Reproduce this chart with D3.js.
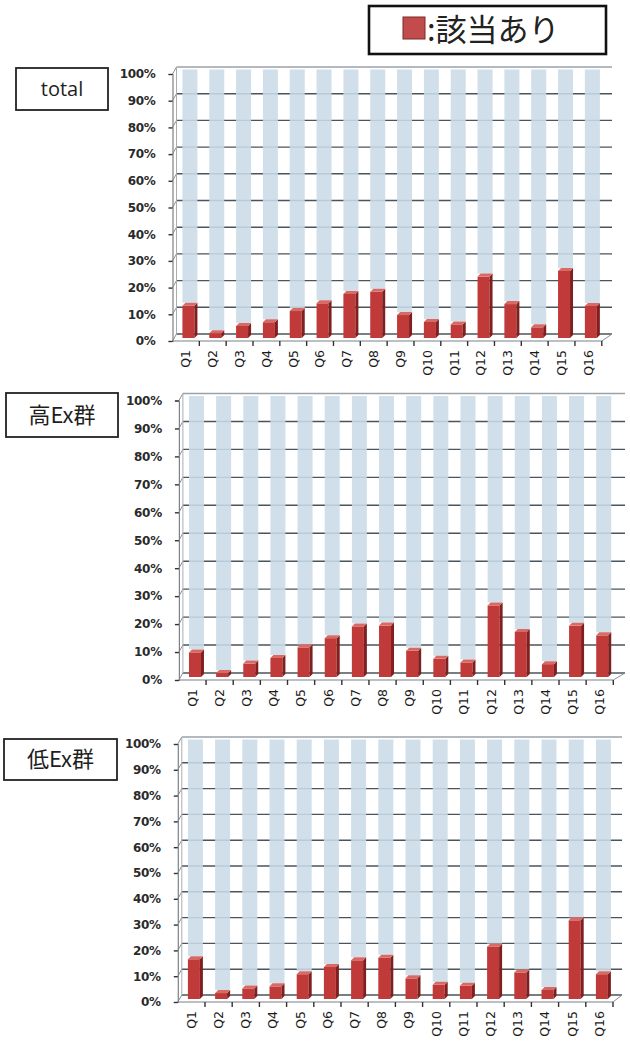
<!DOCTYPE html>
<html>
<head>
<meta charset="utf-8">
<script src="https://cdn.jsdelivr.net/npm/d3@7"></script>
<style>
  html, body { margin: 0; padding: 0; background: #fff; }
  svg { display: block; }
</style>
</head>
<body>
<svg id="chart" width="630" height="1041"></svg>
<script>
// Question labels along the horizontal axis
const categories = ['Q1','Q2','Q3','Q4','Q5','Q6','Q7','Q8','Q9','Q10','Q11','Q12','Q13','Q14','Q15','Q16'];

// Share answering "該当あり" (percent) for each group
const totalValues  = [12.1, 1.8, 4.5, 5.9, 10.1, 13.0, 16.5, 17.3, 8.6, 6.0, 5.1, 23.0, 12.7, 4.0, 25.1, 12.0];
const highExValues = [8.8, 1.4, 4.8, 6.8, 10.6, 13.9, 18.1, 18.4, 9.4, 6.5, 5.2, 25.6, 16.1, 4.6, 18.3, 14.9];
const lowExValues  = [15.4, 2.3, 4.1, 4.9, 9.6, 12.4, 15.0, 16.0, 8.0, 5.5, 5.1, 20.3, 10.3, 3.5, 30.5, 9.6];

// Percent axis ticks
const yTicks = [0, 10, 20, 30, 40, 50, 60, 70, 80, 90, 100];

const groupNames = ['total', '高Ex群', '低Ex群'];
const legendLabel = ':該当あり';

// Panel layout (pixel geometry of each small chart)
const layout = [
  { axisX: 172.5, y0: 341,  h: 267,   step: 26.83, right: 612, box: [16, 68, 92, 42] },
  { axisX: 178.9, y0: 680,  h: 279.5, step: 27.15, right: 625, box: [6, 393, 112, 44] },
  { axisX: 177.8, y0: 1002, h: 258,   step: 27.2,  right: 622, box: [4, 739, 113, 41] }
];
const series = [totalValues, highExValues, lowExValues];

const svg = d3.select('#chart');

const RED = '#c13a3a', RED_SIDE = '#7f1f1f', RED_TOP = '#d86a66';
const BLUE = '#c9dbe7';
const GRID = '#4a545c';

// Pseudo-3D depth offsets
const wallDx = 4, wallDy = -7;   // back wall relative to front axis
const barDx = 4, barDy = -3;     // bar plane relative to front axis
const depth = 3;                  // bar side / top depth
const barW = 12;

series.forEach((values, p) => {
  const L = layout[p];
  const g = svg.append('g');

  const y = d3.scaleLinear().domain([0, 100]).range([L.y0, L.y0 - L.h]);
  const x = d3.scaleBand().domain(categories).range([L.axisX, L.axisX + L.step * categories.length]);
  const xEdge = d3.scaleLinear().domain([0, categories.length]).range([L.axisX, L.axisX + L.step * categories.length]);
  const xEnd = xEdge(categories.length);

  // Back wall gridlines
  g.append('g').selectAll('line.grid').data(yTicks).join('line')
    .attr('x1', L.axisX + wallDx).attr('x2', L.right)
    .attr('y1', d => y(d) + wallDy).attr('y2', d => y(d) + wallDy)
    .attr('stroke', d => d === 100 ? '#9aa2a8' : GRID)
    .attr('stroke-width', 1.4);

  // Side wall connectors from the front axis to the wall
  g.append('g').selectAll('line.conn').data(yTicks).join('line')
    .attr('x1', L.axisX).attr('x2', L.axisX + wallDx)
    .attr('y1', d => y(d)).attr('y2', d => y(d) + wallDy)
    .attr('stroke', '#8a8f94').attr('stroke-width', 1);
  g.append('line')
    .attr('x1', L.axisX + wallDx).attr('x2', L.axisX + wallDx)
    .attr('y1', y(0) + wallDy).attr('y2', y(100) + wallDy)
    .attr('stroke', '#a8adb2').attr('stroke-width', 1);

  // Floor: right-hand depth edge
  g.append('line')
    .attr('x1', xEnd).attr('y1', y(0))
    .attr('x2', L.right).attr('y2', y(0) + wallDy)
    .attr('stroke', '#8a8f94').attr('stroke-width', 1);

  // Bars: remaining share (blue) stacked above the "該当あり" share (red)
  const bars = g.append('g').selectAll('g.bar')
    .data(categories.map((c, i) => ({ c, v: values[i] })))
    .join('g');

  const bx = d => x(d.c) + x.bandwidth() / 2 + barDx - (barW + depth) / 2;
  const by = v => y(v) + barDy;

  bars.append('rect')
    .attr('x', d => bx(d))
    .attr('y', by(100) - depth / 2)
    .attr('width', barW + depth)
    .attr('height', d => by(d.v) - depth - (by(100) - depth / 2))
    .attr('fill', BLUE).attr('opacity', 0.88);

  // front face
  bars.append('rect')
    .attr('x', d => bx(d))
    .attr('y', d => by(d.v))
    .attr('width', barW)
    .attr('height', d => by(0) - by(d.v))
    .attr('fill', RED);
  // right side
  bars.append('polygon')
    .attr('points', d => {
      const x0 = bx(d) + barW, t = by(d.v), b = by(0);
      return [[x0, t], [x0 + depth, t - depth], [x0 + depth, b - depth], [x0, b]].join(' ');
    })
    .attr('fill', RED_SIDE);
  // top face
  bars.append('polygon')
    .attr('points', d => {
      const x0 = bx(d), t = by(d.v);
      return [[x0, t], [x0 + depth, t - depth], [x0 + barW + depth, t - depth], [x0 + barW, t]].join(' ');
    })
    .attr('fill', RED_TOP);

  // Front floor edge with boundary ticks
  g.append('line')
    .attr('x1', L.axisX).attr('x2', xEnd)
    .attr('y1', y(0)).attr('y2', y(0))
    .attr('stroke', '#7d8287').attr('stroke-width', 1.2);
  g.append('g').selectAll('line.xt').data(d3.range(1, categories.length + 1)).join('line')
    .attr('x1', d => xEdge(d)).attr('x2', d => xEdge(d))
    .attr('y1', y(0)).attr('y2', y(0) + 5)
    .attr('stroke', '#333').attr('stroke-width', 1.4);

  // Category labels, rotated to read upward
  const xAxis = d3.axisBottom(x).tickSize(0).tickPadding(0);
  const xa = g.append('g').attr('transform', `translate(0,${y(0)})`).call(xAxis);
  xa.select('.domain').remove();
  xa.selectAll('text')
    .attr('transform', 'rotate(-90)')
    .attr('x', -9).attr('y', 0).attr('dy', '0.35em')
    .attr('text-anchor', 'end')
    .attr('font-family', 'DejaVu Sans, sans-serif')
    .attr('font-size', 12.5)
    .attr('fill', '#1a1a1a');

  // Percent axis
  const yAxis = d3.axisLeft(y).tickValues(yTicks).tickSize(4).tickPadding(13)
    .tickFormat(d => d + '%');
  const ya = g.append('g').attr('transform', `translate(${L.axisX},0)`).call(yAxis);
  ya.select('.domain').attr('stroke', '#7d8287').attr('stroke-width', 1.2);
  ya.selectAll('.tick line').attr('stroke', '#333').attr('stroke-width', 1.4);
  ya.selectAll('text')
    .attr('font-family', 'DejaVu Sans, sans-serif')
    .attr('font-weight', 'bold')
    .attr('font-size', 12)
    .attr('letter-spacing', -0.3)
    .attr('fill', '#2a2a2a');

  // Group name box
  const [bxp, byp, bw, bh] = L.box;
  g.append('rect').attr('x', bxp).attr('y', byp).attr('width', bw).attr('height', bh)
    .attr('fill', '#fff').attr('stroke', '#222').attr('stroke-width', 1.8);
  g.append('text')
    .attr('x', bxp + bw / 2).attr('y', byp + bh / 2).attr('dy', '0.35em')
    .attr('text-anchor', 'middle')
    .attr('font-family', p === 0 ? 'Open Sans, sans-serif' : 'Noto Sans CJK JP, sans-serif')
    .attr('font-size', p === 0 ? 20 : 22)
    .attr('fill', '#1e1e1e')
    .text(groupNames[p]);
});

// Legend
const lg = svg.append('g');
lg.append('rect').attr('x', 369).attr('y', 6).attr('width', 237).attr('height', 48)
  .attr('fill', '#fff').attr('stroke', '#111').attr('stroke-width', 2.6);
lg.append('rect').attr('x', 403).attr('y', 17).attr('width', 22).attr('height', 22)
  .attr('fill', '#c24b4b').attr('stroke', '#7a2a2a').attr('stroke-width', 1);
lg.append('text').attr('x', 427).attr('y', 30).attr('dy', '0.36em')
  .attr('font-family', 'Noto Sans CJK JP, sans-serif')
  .attr('font-size', 31).attr('fill', '#222')
  .text(legendLabel);
</script>
</body>
</html>
